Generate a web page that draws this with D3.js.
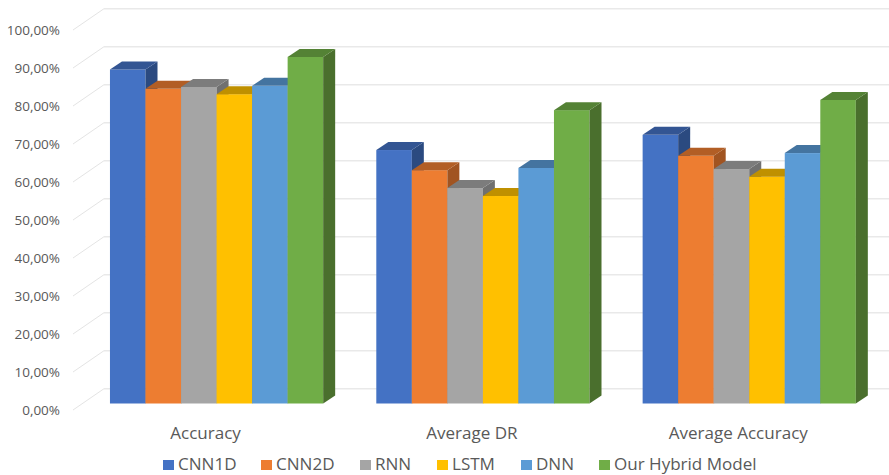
<!DOCTYPE html>
<html><head><meta charset="utf-8">
<script src="https://cdnjs.cloudflare.com/ajax/libs/d3/7.8.5/d3.min.js"></script>
<style>html,body{margin:0;padding:0;background:#fff}svg{display:block}text{font-family:"Open Sans",sans-serif;fill:#595959}</style>
</head><body><svg id="c" width="889" height="475"></svg>
<script>
const categories = ["Accuracy", "Average DR", "Average Accuracy"];
const seriesNames = ["CNN1D", "CNN2D", "RNN", "LSTM", "DNN", "Our Hybrid Model"];
const cnn1d = [87.9, 66.7, 70.7];
const cnn2d = [82.8, 61.4, 65.2];
const rnn = [83.3, 56.7, 61.7];
const lstm = [81.4, 54.6, 59.7];
const dnn = [83.6, 62.0, 65.9];
const hybrid = [91.2, 77.2, 79.9];
const tickValues = [0, 10, 20, 30, 40, 50, 60, 70, 80, 90, 100];
const fronts = ["#4472C4", "#ED7D31", "#A5A5A5", "#FFC000", "#5B9BD5", "#70AD47"];
const tops = ["#335593", "#B25E25", "#7C7C7C", "#BF9000", "#4474A0", "#548235"];
const sides = ["#2B4A80", "#A15421", "#707070", "#AD8200", "#3E6A91", "#4A6F2D"];
const legendX = [163, 261, 360, 437, 521, 599];

const allSeries = [cnn1d, cnn2d, rnn, lstm, dnn, hybrid];
const svg = d3.select("#c");
const wallDX = 31, wallDY = -21.3, barShiftY = -6.5, depthDX = 12, depthDY = -8;
const y = d3.scaleLinear().domain([0, 100]).range([410, 30]);
const yBar = v => y(v) + barShiftY;
const x0 = d3.scaleBand().domain(categories).range([83.4, 882.4]).paddingInner(0).paddingOuter(0);
const groupW = 213.2;
const x1 = d3.scaleBand().domain(seriesNames).range([0, groupW]);
const groupX = c => x0(c) + (x0.bandwidth() - groupW) / 2;
const stretch = 1.1;

// walls: left-wall diagonals and back-wall gridlines
const grid = svg.append("g");
tickValues.forEach(t => {
  grid.append("line").attr("x1", 73).attr("y1", y(t)).attr("x2", 73 + wallDX).attr("y2", y(t) + wallDY)
    .attr("stroke", "#e4e4e4").attr("stroke-width", 1);
  grid.append("line").attr("x1", 73 + wallDX).attr("y1", y(t) + wallDY).attr("x2", 889).attr("y2", y(t) + wallDY)
    .attr("stroke", "#e9e9e9").attr("stroke-width", 1.6);
});

// y axis labels
const axis = d3.axisLeft(y).tickValues(tickValues).tickSize(0).tickPadding(0)
  .tickFormat(v => d3.format(".2f")(v).replace(".", ",") + "%");
const ax = svg.append("g").attr("transform", "translate(60,0)").call(axis);
ax.select(".domain").remove();
ax.selectAll("text").attr("font-size", 13.5).attr("dy", "0.36em");

// bars
const pts = p => p.map(q => q.join(",")).join(" ");
categories.forEach((c, ci) => {
  const g = svg.append("g");
  seriesNames.forEach((s, si) => {
    const v = allSeries[si][ci];
    const l = groupX(c) + x1(s), w = x1.bandwidth(), r = l + w;
    const t = yBar(v), b = yBar(0);
    g.append("rect").attr("x", l).attr("y", t).attr("width", w).attr("height", b - t).attr("fill", fronts[si]);
    g.append("polygon").attr("fill", sides[si])
      .attr("points", pts([[r, t], [r + depthDX, t + depthDY], [r + depthDX, b + depthDY], [r, b]]));
    g.append("polygon").attr("fill", tops[si])
      .attr("points", pts([[l, t], [l + depthDX, t + depthDY], [r + depthDX, t + depthDY], [r, t]]));
  });
});

// category labels
svg.append("g").selectAll("text").data(categories).join("text")
  .attr("transform", c => `translate(${groupX(c) + groupW / 2 - 11},439) scale(${stretch},1)`)
  .attr("text-anchor", "middle").attr("font-size", 15.5).text(c => c);

// legend
const lg = svg.append("g").selectAll("g").data(seriesNames).join("g")
  .attr("transform", (d, i) => `translate(${legendX[i]},0)`);
lg.append("rect").attr("y", 460).attr("width", 11).attr("height", 10).attr("fill", (d, i) => fronts[i]);
lg.append("text").attr("transform", `translate(15,470) scale(${stretch},1)`).attr("font-size", 15.5).text(d => d);
</script></body></html>
